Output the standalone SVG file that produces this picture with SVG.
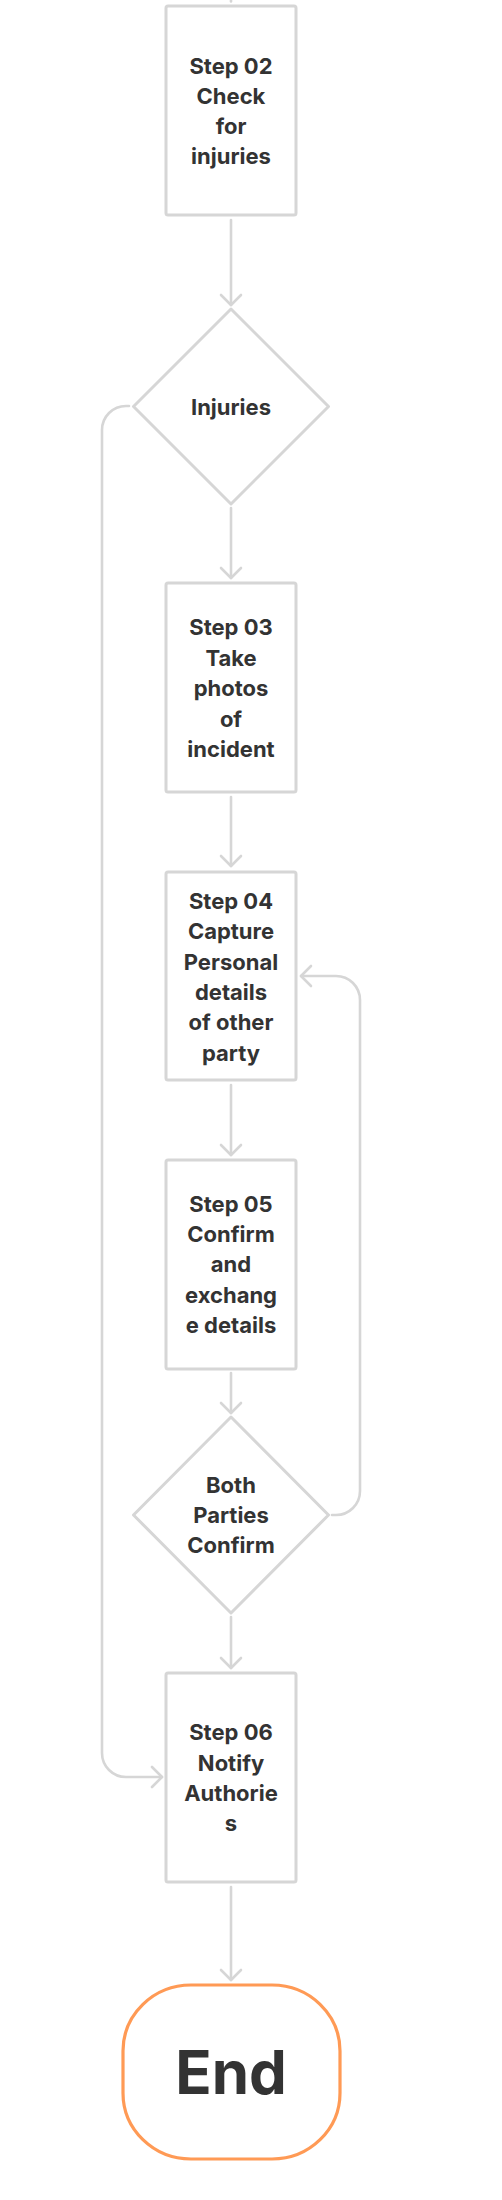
<svg xmlns="http://www.w3.org/2000/svg" width="502" height="2200" viewBox="0 0 502 2200">
<defs>
<marker id="arr" markerUnits="userSpaceOnUse" markerWidth="24" markerHeight="24" refX="12" refY="12" orient="auto" viewBox="0 0 24 24">
<path d="M2 2 L12 12 L2 22" fill="none" stroke="#d6d6d6" stroke-width="2.6" stroke-linecap="round" stroke-linejoin="round"/>
</marker>
<style>
.box{fill:#fff;stroke:#d6d6d6;stroke-width:3}
.end{fill:#fff;stroke:#ff9a55;stroke-width:3.2}
.con{fill:none;stroke:#d6d6d6;stroke-width:2.6;stroke-linecap:round}
.t{font-family:Inter,"Liberation Sans",sans-serif;font-weight:700;font-size:22px;fill:#333;text-anchor:middle}
.te{font-family:Inter,"Liberation Sans",sans-serif;font-weight:700;font-size:60px;fill:#333;text-anchor:middle}
</style>
</defs>
<rect width="502" height="2200" fill="#fff"/>
<g id="connectors">
<path class="con" d="M231 0 V1.5"/>
<path class="con" d="M231 220 V305" marker-end="url(#arr)"/>
<path class="con" d="M231 508 V578" marker-end="url(#arr)"/>
<path class="con" d="M231 797 V866" marker-end="url(#arr)"/>
<path class="con" d="M231 1085 V1155" marker-end="url(#arr)"/>
<path class="con" d="M231 1373 V1413" marker-end="url(#arr)"/>
<path class="con" d="M231 1617 V1668" marker-end="url(#arr)"/>
<path class="con" d="M231 1887 V1980" marker-end="url(#arr)"/>
<path class="con" d="M129 406 H126 A24 24 0 0 0 102 430 V1753 A24 24 0 0 0 126 1777 H162" marker-end="url(#arr)"/>
<path class="con" d="M332 1515 H336 A24 24 0 0 0 360 1491 V1000 A24 24 0 0 0 336 976 H301" marker-end="url(#arr)"/>
</g>
<g id="step02">
<rect class="box" x="166" y="6" width="130" height="209" rx="2"/>
<text class="t" x="231" y="73.5">Step 02</text>
<text class="t" x="231" y="103.8">Check</text>
<text class="t" x="231" y="134">for</text>
<text class="t" x="231" y="164.3">injuries</text>
</g>
<g id="injuries">
<path class="box" d="M231 309 L328.5 406.5 L231 504 L133.5 406.5 Z" stroke-linejoin="round"/>
<text class="t" x="231" y="415">Injuries</text>
</g>
<g id="step03">
<rect class="box" x="166" y="583" width="130" height="209" rx="2"/>
<text class="t" x="231" y="635">Step 03</text>
<text class="t" x="231" y="665.5">Take</text>
<text class="t" x="231" y="696">photos</text>
<text class="t" x="231" y="726.5">of</text>
<text class="t" x="231" y="757">incident</text>
</g>
<g id="step04">
<rect class="box" x="166" y="872" width="130" height="208" rx="2"/>
<text class="t" x="231" y="909">Step 04</text>
<text class="t" x="231" y="939.3">Capture</text>
<text class="t" x="231" y="969.6">Personal</text>
<text class="t" x="231" y="999.9">details</text>
<text class="t" x="231" y="1030.2">of other</text>
<text class="t" x="231" y="1060.5">party</text>
</g>
<g id="step05">
<rect class="box" x="166" y="1160" width="130" height="209" rx="2"/>
<text class="t" x="231" y="1211.7">Step 05</text>
<text class="t" x="231" y="1242">Confirm</text>
<text class="t" x="231" y="1272.3">and</text>
<text class="t" x="231" y="1302.6">exchang</text>
<text class="t" x="231" y="1333">e details</text>
</g>
<g id="both">
<path class="box" d="M231 1417 L328.5 1515 L231 1613 L133.5 1515 Z" stroke-linejoin="round"/>
<text class="t" x="231" y="1492.7">Both</text>
<text class="t" x="231" y="1522.9">Parties</text>
<text class="t" x="231" y="1553.1">Confirm</text>
</g>
<g id="step06">
<rect class="box" x="166" y="1673" width="130" height="209" rx="2"/>
<text class="t" x="231" y="1740.3">Step 06</text>
<text class="t" x="231" y="1770.6">Notify</text>
<text class="t" x="231" y="1801">Authorie</text>
<text class="t" x="231" y="1831.3">s</text>
</g>
<g id="end">
<rect class="end" x="123" y="1985" width="217" height="174" rx="68" ry="66"/>
<text class="te" x="231" y="2094">End</text>
</g>
</svg>
